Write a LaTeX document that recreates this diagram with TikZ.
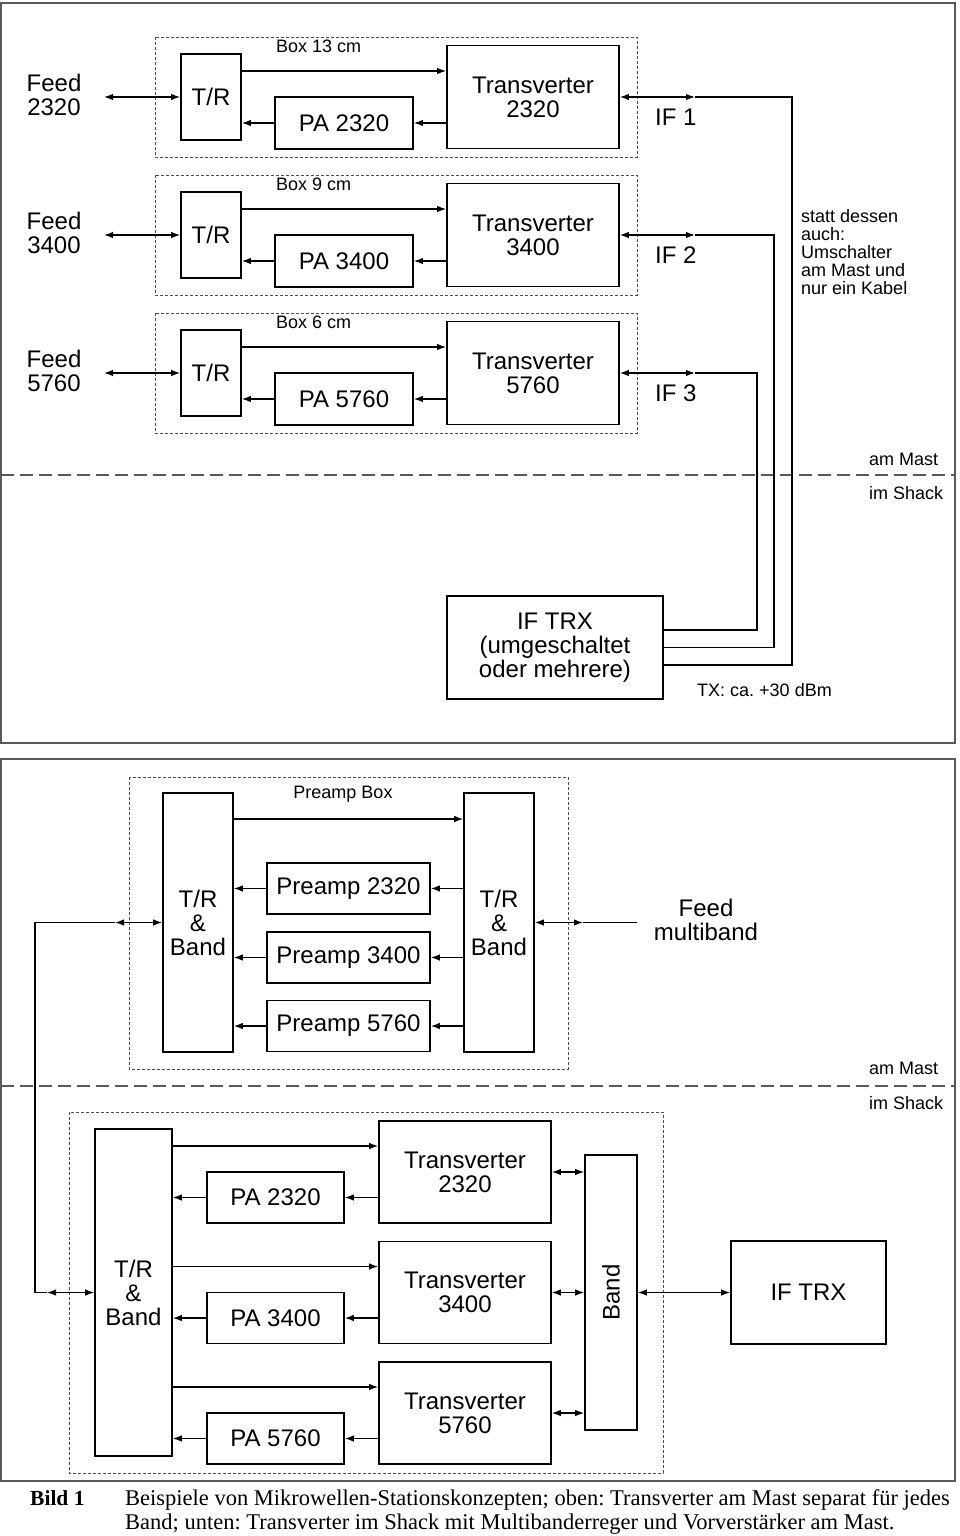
\documentclass[tikz,border=0pt]{standalone}
\usepackage{fontspec}
\setmainfont{Liberation Serif}
\setsansfont{Liberation Sans}
\usetikzlibrary{arrows.meta,positioning}
\newcommand{\bigfont}{\sffamily\fontsize{24}{24}\selectfont}
\newcommand{\smallfont}{\sffamily\fontsize{18}{18}\selectfont}
\tikzset{
    block/.style={
        draw, rectangle, line width=1.6pt,
        inner sep=0pt, align=center,
        font=\bigfont, text=black
    },
    bigtext/.style={font=\bigfont, inner sep=0pt, align=center},
    note/.style={font=\smallfont, inner sep=0pt, align=left},
    housing/.style={draw=gray!60!black, line width=0.9pt, dash pattern=on 3pt off 2pt},
    panel/.style={draw=gray!70!black, line width=1.5pt},
    sepline/.style={draw=gray!70!black, line width=1.2pt, dash pattern=on 13pt off 6pt},
    tip/.tip={Latex[length=9pt,width=6.5pt]},
    connect/.style={-tip, line width=1.3pt},
    biconnect/.style={tip-tip, line width=1.3pt},
    cable/.style={line width=1.3pt}
}
\frenchspacing
\begin{document}
\begin{tikzpicture}[x=1pt,y=-1pt]
	\useasboundingbox (0,0) rectangle (960,1536);

	% frames and mast line
	\draw[panel] (1,3) rectangle (955,743);
	\draw[panel] (1,759) rectangle (955,1481);
	\draw[sepline] (1,475) -- (955,475);
	\draw[sepline] (1,1086) -- (955,1086);
	\node[note, anchor=west] (mastA) at (869,459) {am Mast};
	\node[note, anchor=west] (shackA) at (869,493) {im Shack};
	\node[note, anchor=west] (mastB) at (869,1068) {am Mast};
	\node[note, anchor=west] (shackB) at (869,1103) {im Shack};

	% upper part: transverter am Mast
	\node[block, minimum width=216pt, minimum height=103pt] (trx) at (555,647.5) {IF TRX\\(umgeschaltet\\oder mehrere)};
	\node[note, anchor=west] (txpower) at (697,690) {TX: ca. +30 dBm};
	\node[note, anchor=north west] (hint) at (801,209) {statt dessen\\auch:\\Umschalter\\am Mast und\\nur ein Kabel};

	\draw[housing] (155,37) rectangle (637,157);
	\node[note, anchor=west] (box1) at (276,46) {Box 13 cm};
	\node[bigtext] (feed1) at (54,95) {Feed\\2320};
	\node[block, minimum width=60pt, minimum height=86pt] (tr1) at (211,97) {T/R};
	\node[block, minimum width=138pt, minimum height=52pt] (pa1) at (344,123) {PA 2320};
	\node[block, minimum width=172pt, minimum height=103pt] (tv1) at (533,97) {Transverter\\2320};
	\node[bigtext, anchor=west] (if1) at (655,117) {IF 1};
	\coordinate (f1) at (104,97);
	\coordinate (i1) at (695,97);
	\coordinate (k1) at (792,97);

	\draw[housing] (155,175) rectangle (637,295);
	\node[note, anchor=west] (box2) at (276,184) {Box 9 cm};
	\node[bigtext] (feed2) at (54,233) {Feed\\3400};
	\node[block, minimum width=60pt, minimum height=86pt] (tr2) at (211,235) {T/R};
	\node[block, minimum width=138pt, minimum height=52pt] (pa2) at (344,261) {PA 3400};
	\node[block, minimum width=172pt, minimum height=103pt] (tv2) at (533,235) {Transverter\\3400};
	\node[bigtext, anchor=west] (if2) at (655,255) {IF 2};
	\coordinate (f2) at (104,235);
	\coordinate (i2) at (695,235);
	\coordinate (k2) at (774,235);

	\draw[housing] (155,313) rectangle (637,433);
	\node[note, anchor=west] (box3) at (276,322) {Box 6 cm};
	\node[bigtext] (feed3) at (54,371) {Feed\\5760};
	\node[block, minimum width=60pt, minimum height=86pt] (tr3) at (211,373) {T/R};
	\node[block, minimum width=138pt, minimum height=52pt] (pa3) at (344,399) {PA 5760};
	\node[block, minimum width=172pt, minimum height=103pt] (tv3) at (533,373) {Transverter\\5760};
	\node[bigtext, anchor=west] (if3) at (655,393) {IF 3};
	\coordinate (f3) at (104,373);
	\coordinate (i3) at (695,373);
	\coordinate (k3) at (757,373);

	\draw[biconnect] (f1) -- (tr1);
	\draw[connect] ([yshift=26pt]tr1.east) -- ([yshift=26pt]tr1.east -| tv1.west);
	\draw[connect] (tv1.west |- pa1.east) -- (pa1.east);
	\draw[connect] (pa1.west) -- (pa1.west -| tr1.east);
	\draw[biconnect] (tv1.east) -- (i1);
	\draw[cable] (i1) -- (k1) |- ([yshift=-17.5pt]trx.east);

	\draw[biconnect] (f2) -- (tr2);
	\draw[connect] ([yshift=26pt]tr2.east) -- ([yshift=26pt]tr2.east -| tv2.west);
	\draw[connect] (tv2.west |- pa2.east) -- (pa2.east);
	\draw[connect] (pa2.west) -- (pa2.west -| tr2.east);
	\draw[biconnect] (tv2.east) -- (i2);
	\draw[cable] (i2) -- (k2) |- (trx.east);

	\draw[biconnect] (f3) -- (tr3);
	\draw[connect] ([yshift=26pt]tr3.east) -- ([yshift=26pt]tr3.east -| tv3.west);
	\draw[connect] (tv3.west |- pa3.east) -- (pa3.east);
	\draw[connect] (pa3.west) -- (pa3.west -| tr3.east);
	\draw[biconnect] (tv3.east) -- (i3);
	\draw[cable] (i3) -- (k3) |- ([yshift=17.5pt]trx.east);

	% lower part: preamp box am Mast
	\draw[housing] (129,777) rectangle (568,1069);
	\node[note] (prebox) at (343,794) {Preamp Box};
	\node[block, minimum width=70pt, minimum height=259pt] (lt) at (198,922.5) {T/R\\\&\\Band};
	\node[block, minimum width=70pt, minimum height=259pt] (rt) at (499,922.5) {T/R\\\&\\Band};
	\node[block, minimum width=163pt, minimum height=51pt] (pre1) at (348.5,888.5) {Preamp 2320};
	\node[block, minimum width=163pt, minimum height=51pt] (pre2) at (348.5,957.5) {Preamp 3400};
	\node[block, minimum width=163pt, minimum height=51pt] (pre3) at (348.5,1026) {Preamp 5760};
	\node[bigtext] (feedm) at (706,920) {Feed\\multiband};
	\coordinate (fm) at (583,922.5);
	\coordinate (fme) at (637,922.5);

	\draw[connect] ([yshift=103.5pt]lt.east) -- ([yshift=103.5pt]rt.west);
	\draw[connect] (rt.west |- pre1.east) -- (pre1.east);
	\draw[connect] (pre1.west) -- (pre1.west -| lt.east);
	\draw[connect] (rt.west |- pre2.east) -- (pre2.east);
	\draw[connect] (pre2.west) -- (pre2.west -| lt.east);
	\draw[connect] (rt.west |- pre3.east) -- (pre3.east);
	\draw[connect] (pre3.west) -- (pre3.west -| lt.east);
	\draw[biconnect] (rt.east) -- (fm);
	\draw[cable] (fm) -- (fme);

	% lower part: transverter im Shack
	\draw[housing] (69,1112) rectangle (663,1473);
	\node[block, minimum width=77pt, minimum height=327pt] (trb) at (133.5,1292.5) {T/R\\\&\\Band};
	\node[block, minimum width=137pt, minimum height=51pt] (pb1) at (275.5,1197.5) {PA 2320};
	\node[block, minimum width=137pt, minimum height=51pt] (pb2) at (275.5,1318) {PA 3400};
	\node[block, minimum width=137pt, minimum height=51pt] (pb3) at (275.5,1438.5) {PA 5760};
	\node[block, minimum width=172pt, minimum height=102pt] (tb1) at (465,1172) {Transverter\\2320};
	\node[block, minimum width=172pt, minimum height=102pt] (tb2) at (465,1292.5) {Transverter\\3400};
	\node[block, minimum width=172pt, minimum height=102pt] (tb3) at (465,1413) {Transverter\\5760};
	\node[block, rotate=90, minimum width=275pt, minimum height=52pt] (band) at (611,1292.5) {Band};
	\node[block, minimum width=155pt, minimum height=103pt] (iftrx) at (808.5,1292.5) {IF TRX};
	\coordinate (lf) at (115,922.5);
	\coordinate (lc) at (35,922.5);
	\coordinate (lc2) at (35,1292.5);
	\coordinate (lf2) at (47,1292.5);

	\draw[biconnect] (lt.west) -- (lf);
	\draw[cable] (lf) -- (lc) -- (lc2) -- (lf2);
	\draw[biconnect] (lf2) -- (trb.west);

	\draw[connect] ([yshift=26pt]tb1.west -| trb.east) -- ([yshift=26pt]tb1.west);
	\draw[connect] (tb1.west |- pb1.east) -- (pb1.east);
	\draw[connect] (pb1.west) -- (pb1.west -| trb.east);
	\draw[connect] ([yshift=26pt]tb2.west -| trb.east) -- ([yshift=26pt]tb2.west);
	\draw[connect] (tb2.west |- pb2.east) -- (pb2.east);
	\draw[connect] (pb2.west) -- (pb2.west -| trb.east);
	\draw[connect] ([yshift=26pt]tb3.west -| trb.east) -- ([yshift=26pt]tb3.west);
	\draw[connect] (tb3.west |- pb3.east) -- (pb3.east);
	\draw[connect] (pb3.west) -- (pb3.west -| trb.east);
	\draw[biconnect] (tb1.east) -- (tb1.east -| band.north);
	\draw[biconnect] (tb2.east) -- (tb2.east -| band.north);
	\draw[biconnect] (tb3.east) -- (tb3.east -| band.north);
	\draw[biconnect] (band.south |- iftrx.west) -- (iftrx.west);

	% caption
	\node[font=\fontsize{21.5}{24}\selectfont\bfseries, anchor=north west, inner sep=0pt] (bild) at (30,1490) {Bild 1};
	\node[font=\fontsize{22.5}{24}\selectfont, anchor=north west, inner sep=0pt, align=left] (caption) at (125,1489) {Beispiele von Mikrowellen-Stationskonzepten; oben: Transverter am Mast separat für jedes\\Band; unten: Transverter im Shack mit Multibanderreger und Vorverstärker am Mast.};
\end{tikzpicture}
\end{document}
